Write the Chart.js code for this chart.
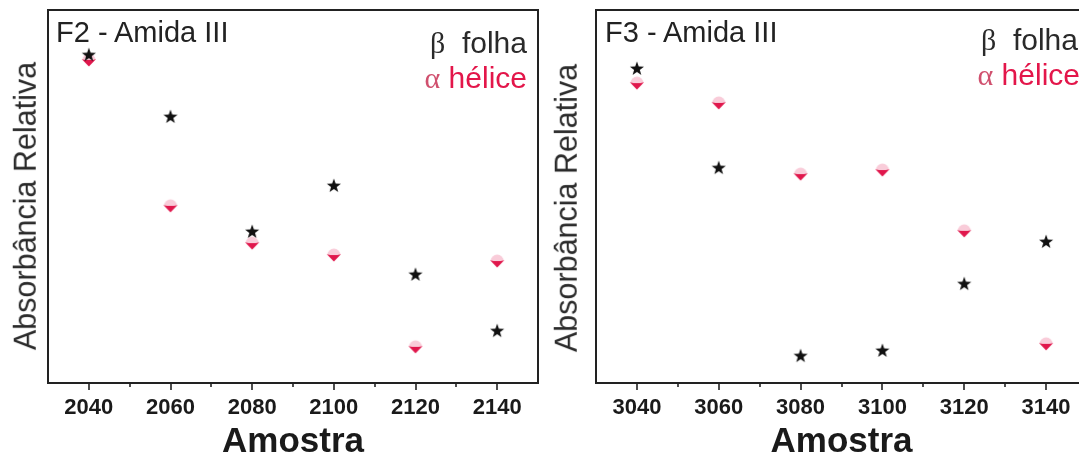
<!DOCTYPE html>
<html>
<head>
<meta charset="utf-8">
<script src="https://cdn.jsdelivr.net/npm/chart.js@4/dist/chart.umd.min.js"></script>
<style>
html,body{margin:0;padding:0;background:#fff;overflow:hidden;width:1079px;height:462px;}
#wrap{position:relative;width:1079px;height:462px;overflow:hidden;background:#fff;}
.panel{position:absolute;top:0;height:462px;}
canvas{display:block;}
.ttl{position:absolute;font-family:'Liberation Sans',Arial,sans-serif;font-size:29px;line-height:29px;color:#222;white-space:nowrap;}
.leg{position:absolute;font-family:'Liberation Sans',Arial,sans-serif;font-size:30px;line-height:30px;white-space:nowrap;text-align:right;}
.ylab{position:absolute;font-family:'Liberation Sans',Arial,sans-serif;font-size:30.5px;line-height:30.5px;color:#2a2a2a;white-space:nowrap;transform:translate(-50%,-50%) rotate(-90deg);}
.gk{font-family:'Liberation Serif','DejaVu Serif',serif;}
.b{color:#2a2a2a;}
.a{color:#e3164a;}
.a .gk{color:#d0506e;}
</style>
</head>
<body>
<div id="wrap">
  <div class="panel" style="left:0;width:540px;">
    <canvas id="c1" width="540" height="462"></canvas>
    <div class="ttl" id="t1" style="left:56px;top:18px;"></div>
    <div class="leg b" style="right:13px;top:28px;"><span class="gk">β</span>&nbsp; <span id="l1b"></span></div>
    <div class="leg a" style="right:13px;top:63px;"><span class="gk">α</span> <span id="l1a"></span></div>
    <div class="ylab" id="y1" style="left:25px;top:206px;"></div>
  </div>
  <div class="panel" style="left:540px;width:549px;">
    <canvas id="c2" width="549" height="462"></canvas>
    <div class="ttl" id="t2" style="left:65px;top:18px;"></div>
    <div class="leg b" style="right:11px;top:25px;"><span class="gk">β</span>&nbsp; <span id="l2b"></span></div>
    <div class="leg a" style="right:9px;top:60px;"><span class="gk">α</span> <span id="l2a"></span></div>
    <div class="ylab" id="y2" style="left:26px;top:208px;"></div>
  </div>
</div>
<script>
// ---- data (y is relative absorbance, arbitrary 0-100 scale) ----
const samplesF2 = [2040, 2060, 2080, 2100, 2120, 2140];
const samplesF3 = [3040, 3060, 3080, 3100, 3120, 3140];
const betaF2  = [87.9, 71.3, 40.5, 52.8, 29.0, 13.9];
const alphaF2 = [86.6, 47.5, 37.5, 34.3, 9.7, 32.7];
const betaF3  = [84.2, 57.6, 7.2, 8.6, 26.5, 37.8];
const alphaF3 = [80.4, 75.1, 56.0, 57.1, 40.8, 10.5];
const seriesWords = ['folha', 'hélice'];
const seriesNames = ['β folha', 'α hélice'];
const panelTitles = ['F2 - Amida III', 'F3 - Amida III'];
const xTitle = 'Amostra';
const yTitle = 'Absorbância Relativa';

document.getElementById('t1').textContent = panelTitles[0];
document.getElementById('t2').textContent = panelTitles[1];
document.getElementById('l1b').textContent = seriesWords[0];
document.getElementById('l1a').textContent = seriesWords[1];
document.getElementById('l2b').textContent = seriesWords[0];
document.getElementById('l2a').textContent = seriesWords[1];
document.getElementById('y1').textContent = yTitle;
document.getElementById('y2').textContent = yTitle;

const FAM = "'Liberation Sans', Arial, sans-serif";

function starImg() {
  const c = document.createElement('canvas'); c.width = 16; c.height = 16;
  const g = c.getContext('2d');
  g.beginPath();
  for (let i = 0; i < 10; i++) {
    const r = i % 2 ? 3.0 : 7.4;
    const a = -Math.PI / 2 + i * Math.PI / 5;
    g.lineTo(8 + r * Math.cos(a), 8 + r * Math.sin(a));
  }
  g.closePath(); g.fillStyle = '#111'; g.fill();
  return c;
}
function helixImg() {
  const c = document.createElement('canvas'); c.width = 16; c.height = 16;
  const g = c.getContext('2d');
  g.beginPath(); g.arc(8, 8, 6.5, Math.PI, 2 * Math.PI); g.closePath();
  g.fillStyle = 'rgba(245,170,192,0.6)'; g.fill();
  g.beginPath(); g.moveTo(1, 7.2); g.quadraticCurveTo(8, 9, 15, 7.2); g.lineTo(8, 14.5); g.closePath();
  g.fillStyle = '#e0174c'; g.fill();
  return c;
}
const STAR = starImg();
const HELIX = helixImg();

const frame = {
  id: 'frame',
  afterDraw(ch) {
    const ctx = ch.ctx, a = ch.chartArea, x = ch.scales.x;
    ctx.save();
    ctx.strokeStyle = '#222';
    ctx.lineWidth = 2;
    ctx.strokeRect(a.left, a.top, a.right - a.left, a.bottom - a.top);
    ctx.lineWidth = 1.6;
    x.ticks.forEach(t => {
      if (t.value <= x.min || t.value >= x.max) return;
      const px = Math.round(x.getPixelForValue(t.value));
      const len = t.value % 20 === 0 ? 7 : 4;
      ctx.beginPath(); ctx.moveTo(px, a.bottom); ctx.lineTo(px, a.bottom + len); ctx.stroke();
    });
    ctx.restore();
  }
};

function makeChart(id, xs, beta, alpha, xmin, xmax, yW) {
  return new Chart(document.getElementById(id), {
    type: 'scatter',
    data: {
      datasets: [
        { label: seriesNames[0], data: xs.map((v, i) => ({ x: v, y: beta[i] })), pointStyle: STAR, pointRadius: 8, pointHoverRadius: 8 },
        { label: seriesNames[1], data: xs.map((v, i) => ({ x: v, y: alpha[i] })), pointStyle: HELIX, pointRadius: 8, pointHoverRadius: 8 }
      ]
    },
    options: {
      responsive: false, animation: false, events: [],
      layout: { autoPadding: false, padding: { left: 0, right: 2, top: 10, bottom: 0 } },
      plugins: { legend: { display: false }, tooltip: { enabled: false } },
      scales: {
        x: {
          type: 'linear', min: xmin, max: xmax,
          grid: { display: false, drawTicks: true, tickLength: 12 }, border: { display: false },
          ticks: { stepSize: 10, autoSkip: false, maxRotation: 0, minRotation: 0, padding: 0, color: '#1a1a1a',
                   font: { family: FAM, size: 22, weight: 'bold' },
                   callback: v => (v % 20 === 0 ? String(v) : '') },
          title: { display: true, text: xTitle, color: '#1a1a1a', font: { family: FAM, size: 35, weight: 'bold', lineHeight: 1.1 }, padding: { top: 0, bottom: 0 } },
          afterFit: s => { s.height = 79; s.paddingLeft = 0; s.paddingRight = 0; }
        },
        y: {
          min: 0, max: 100,
          ticks: { display: false }, grid: { display: false, drawTicks: false }, border: { display: false },
          title: { display: false },
          afterFit: s => { s.width = yW; }
        }
      }
    },
    plugins: [frame]
  });
}

makeChart('c1', samplesF2, betaF2, alphaF2, 2030, 2150, 48);
makeChart('c2', samplesF3, betaF3, alphaF3, 3030, 3150, 56);
</script>
</body>
</html>
